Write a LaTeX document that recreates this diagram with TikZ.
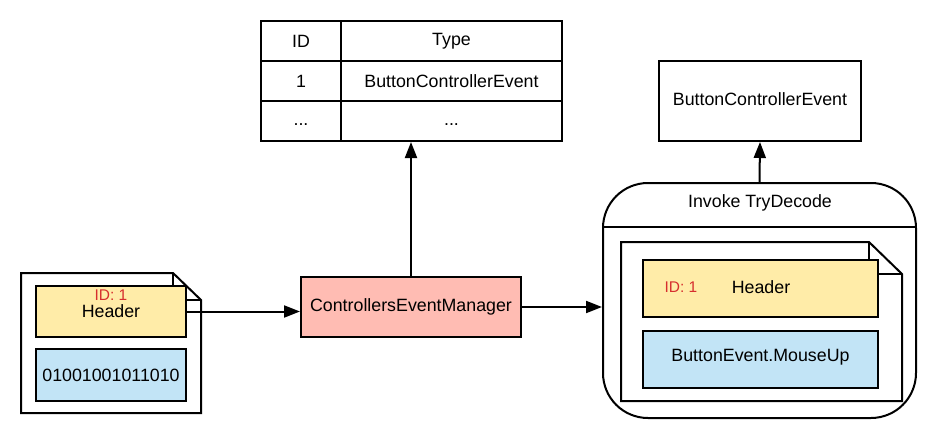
\documentclass[tikz,border=0pt]{standalone}
\usepackage{fontspec}
\setmainfont{Liberation Sans}
\usetikzlibrary{arrows.meta}
\definecolor{hdrY}{RGB}{255,236,168}
\definecolor{binB}{RGB}{194,228,246}
\definecolor{cemP}{RGB}{255,188,179}
\definecolor{idR}{RGB}{214,46,46}
\tikzset{
  bx/.style={draw, line width=2pt, inner sep=0pt},
  arr/.style={line width=2pt, -{Triangle[length=16pt,width=12pt]}},
  lbl/.style={inner sep=0pt},
  idlbl/.style={inner sep=0pt, text=idR, font=\fontsize{15.5}{18}\selectfont},
}
\begin{document}
\begin{tikzpicture}[x=1pt,y=-1pt, font=\fontsize{17.8}{20}\selectfont, line width=2pt, line join=miter]
\useasboundingbox (0,0) rectangle (938,444);
\fill[white] (0,0) rectangle (938,444);
% left document
\draw (21,273) -- (173,273) -- (201,300) -- (201,413) -- (21,413) -- cycle;
\draw (173,273) -- (173,300) -- (201,300);
\node[bx, fill=hdrY, minimum width=150pt, minimum height=51pt] (hdrL) at (111,311.5) {};
\node[idlbl] (idL) at (111,295) {ID: 1};
\node[lbl] (hL) at (111,311) {Header};
\node[bx, fill=binB, minimum width=150pt, minimum height=52pt] (binL) at (111,375) {01001001011010};
% manager
\node[bx, fill=cemP, minimum width=220pt, minimum height=60pt] (cem) at (411,307) {ControllersEventManager};
% table
\node[bx, minimum width=301pt, minimum height=120pt] (tbl) at (411.5,81) {};
\draw (341,21) -- (341,141);
\draw (261,61) -- (562,61);
\draw (261,101) -- (562,101);
\node[lbl] (tID) at (301,41) {ID};
\node[lbl] (tType) at (451.5,41) {Type};
\node[lbl] (t1) at (301,81) {1};
\node[lbl] (tBCE) at (451.5,81) {ButtonControllerEvent};
\node[lbl] (tdA) at (301,125) {...};
\node[lbl] (tdB) at (451.5,125) {...};
% ButtonControllerEvent box
\node[bx, minimum width=202pt, minimum height=80pt] (bce) at (760,101) {};
\node[lbl] (bceT) at (760,99.5) {ButtonControllerEvent};
% decode container
\node[bx, rounded corners=45pt, minimum width=313pt, minimum height=235pt] (dec) at (759.5,300.5) {};
\draw (603,227) -- (916,227);
\node[lbl] (decT) at (760,203) {Invoke TryDecode};
% inner document
\draw (621,242) -- (869,242) -- (902,274) -- (902,401) -- (621,401) -- cycle;
\draw (869,242) -- (869,274) -- (902,274);
\node[bx, fill=hdrY, minimum width=235pt, minimum height=57pt] (hdrR) at (760.5,288.5) {};
\node[idlbl] (idR2) at (681,287) {ID: 1};
\node[lbl] (hR) at (761,287) {Header};
\node[bx, fill=binB, minimum width=235pt, minimum height=57pt] (evR) at (760.5,359.5) {};
\node[lbl] (evT) at (760.5,357) {ButtonEvent.MouseUp};
% connectors
\draw[arr] (hdrL.east) -- (hdrL.east -| cem.west);
\draw[arr] (cem.north) -- (cem.north |- tbl.south);
\draw[arr] (cem.east) -- (cem.east -| dec.west);
\draw[arr] (dec.north) -- (bce.south);
\end{tikzpicture}
\end{document}
